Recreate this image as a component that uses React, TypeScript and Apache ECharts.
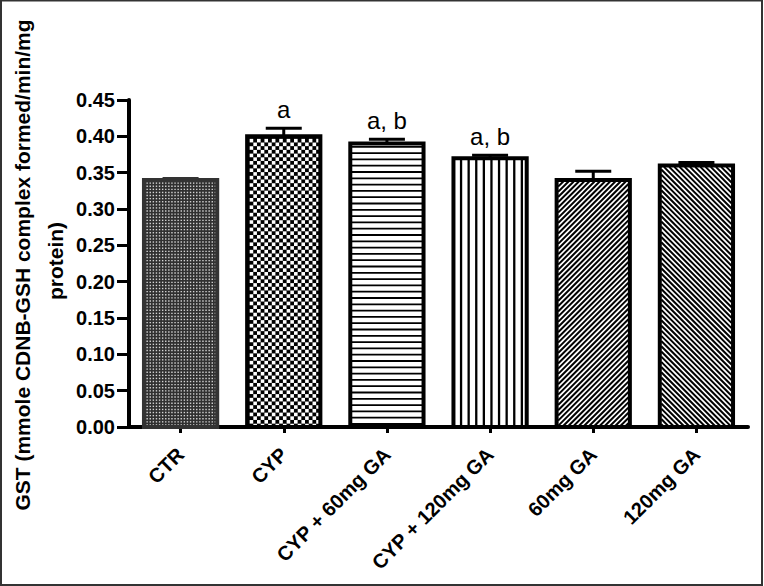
import React, { useEffect, useRef } from "react";
import * as echarts from "echarts";

const categories = ["CTR", "CYP", "CYP + 60mg GA", "CYP + 120mg GA", "60mg GA", "120mg GA"];
const gstMean = [0.34, 0.4, 0.39, 0.37, 0.34, 0.36];
const gstSem = [0.002, 0.011, 0.006, 0.004, 0.012, 0.004];
const sigLabels = ["", "a", "a, b", "a, b", "", ""];
const yAxisTitleLines = ["GST (mmole CDNB-GSH complex formed/min/mg", "protein)"];
const yMin = 0;
const yMax = 0.45;
const yStep = 0.05;

const fillKinds = ["dots", "checker", "hlines", "vlines", "diagUp", "diagDown"];
const FONT = "'Liberation Sans', Arial, Helvetica, sans-serif";

function renderBar(params: any, api: any) {
  const i = api.value(0);
  const v = api.value(1);
  const e = api.value(2);
  const top = api.coord([i, v]);
  const base = api.coord([i, 0]);
  const capPt = api.coord([i, v + e]);
  const band = api.size([1, 0])[0];
  const w = band * 0.71;
  const cx = top[0];
  const x0 = cx - w / 2;
  const x1 = cx + w / 2;
  const y0 = top[1];
  const y1 = base[1];
  const kind = fillKinds[i];
  const edge = i === 0 ? "#333" : "#000";
  const children: any[] = [];
  const ix0 = x0 + 1.5, ix1 = x1 - 1.5, iy0 = y0 + 1.5, iy1 = y1;

  if (kind === "dots") {
    children.push({ type: "rect", shape: { x: x0, y: y0, width: w, height: y1 - y0 }, style: { fill: "#303030" } });
    const p = 3.1;
    for (let yy = iy0 + 1; yy < iy1 - 1; yy += p) {
      for (let xx = ix0 + 1; xx < ix1 - 1; xx += p) {
        children.push({ type: "rect", shape: { x: xx, y: yy, width: 1.4, height: 1.4 }, style: { fill: "#d4d4d4" } });
      }
    }
  } else if (kind === "checker") {
    children.push({ type: "rect", shape: { x: x0, y: y0, width: w, height: y1 - y0 }, style: { fill: "#000" } });
    const px = 7.4, py = 3.7, s = 3.6;
    let row = 0;
    for (let yy = iy0 + 1; yy < iy1 - 2; yy += py, row++) {
      const off = row % 2 === 0 ? 0 : px / 2;
      for (let xx = ix0 + 1 + off; xx < ix1 - 2; xx += px) {
        children.push({ type: "rect", shape: { x: xx, y: yy, width: Math.min(s, ix1 - xx), height: Math.min(s, iy1 - yy) }, style: { fill: "#fff" } });
      }
    }
  } else {
    children.push({ type: "rect", shape: { x: x0, y: y0, width: w, height: y1 - y0 }, style: { fill: "#fff" } });
    const lineStyle = { stroke: "#000", lineWidth: 2 };
    if (kind === "hlines") {
      for (let yy = y1 - 3; yy > y0 + 2; yy -= 6.3) {
        children.push({ type: "line", shape: { x1: ix0, y1: yy, x2: ix1, y2: yy }, style: { stroke: "#000", lineWidth: 1.8 } });
      }
    } else if (kind === "vlines") {
      for (let xx = x0 + 7.6; xx < x1 - 3; xx += 7.6) {
        children.push({ type: "line", shape: { x1: xx, y1: iy0, x2: xx, y2: iy1 }, style: { stroke: "#000", lineWidth: 2.3 } });
      }
    } else if (kind === "diagUp") {
      const p = 5.2;
      for (let c = ix0 + iy0; c <= ix1 + iy1; c += p) {
        const xa = Math.max(ix0, c - iy1);
        const xb = Math.min(ix1, c - iy0);
        if (xb > xa) children.push({ type: "line", shape: { x1: xa, y1: c - xa, x2: xb, y2: c - xb }, style: lineStyle });
      }
    } else if (kind === "diagDown") {
      const p = 5.2;
      for (let c = iy0 - ix1; c <= iy1 - ix0; c += p) {
        const xa = Math.max(ix0, iy0 - c);
        const xb = Math.min(ix1, iy1 - c);
        if (xb > xa) children.push({ type: "line", shape: { x1: xa, y1: xa + c, x2: xb, y2: xb + c }, style: lineStyle });
      }
    }
  }
  children.push({
    type: "rect",
    shape: { x: x0, y: y0, width: w, height: y1 - y0 },
    style: { fill: "none", stroke: edge, lineWidth: 4, lineJoin: "miter" },
  });
  const capY = capPt[1];
  children.push({ type: "line", shape: { x1: cx, y1: y0, x2: cx, y2: capY }, style: { stroke: edge, lineWidth: 3 } });
  children.push({ type: "line", shape: { x1: cx - 18, y1: capY, x2: cx + 18, y2: capY }, style: { stroke: edge, lineWidth: 3 } });
  const lab = sigLabels[i];
  if (lab) {
    children.push({
      type: "text",
      x: cx,
      y: capY - 7,
      style: { text: lab, fill: "#000", font: `24px ${FONT}`, align: "center", verticalAlign: "bottom" },
    });
  }
  return { type: "group", children };
}

export default function App() {
  const ref = useRef<HTMLDivElement>(null);
  useEffect(() => {
    if (!ref.current) return;
    const chart = echarts.init(ref.current, null, { renderer: "svg" });
    chart.setOption({
      animation: false,
      backgroundColor: "#fff",
      grid: { left: 129, right: 16, top: 100, bottom: 159, containLabel: false },
      xAxis: {
        type: "category",
        data: categories,
        axisLine: { show: true, lineStyle: { color: "#000", width: 4 } },
        axisTick: { show: true, alignWithLabel: true, length: 6, lineStyle: { color: "#000", width: 3 } },
        axisLabel: {
          rotate: 45,
          margin: 24,
          interval: 0,
          color: "#000",
          fontFamily: FONT,
          fontWeight: "bold",
          fontSize: 20,
        },
        splitLine: { show: false },
      },
      yAxis: {
        type: "value",
        min: yMin,
        max: yMax,
        interval: yStep,
        axisLine: { show: true, lineStyle: { color: "#000", width: 4 } },
        axisTick: { show: true, length: 12, lineStyle: { color: "#000", width: 3 } },
        axisLabel: {
          margin: 14,
          color: "#000",
          fontFamily: FONT,
          fontWeight: "bold",
          fontSize: 20,
          formatter: (val: number) => val.toFixed(2),
        },
        splitLine: { show: false },
      },
      graphic: [
        {
          type: "rect",
          shape: { x: 1, y: 0.5, width: 761, height: 584.5 },
          style: { fill: "none", stroke: "#333", lineWidth: 2 },
          z: 100,
        },
        {
          type: "text",
          x: 22,
          y: 265,
          rotation: Math.PI / 2,
          style: { text: yAxisTitleLines[0], fill: "#000", font: `bold 21px ${FONT}`, align: "center", verticalAlign: "middle" },
        },
        {
          type: "text",
          x: 55,
          y: 261,
          rotation: Math.PI / 2,
          style: { text: yAxisTitleLines[1], fill: "#000", font: `bold 21px ${FONT}`, align: "center", verticalAlign: "middle" },
        },
      ],
      series: [
        {
          type: "custom",
          clip: false,
          renderItem: renderBar,
          encode: { x: 0, y: 1 },
          data: gstMean.map((v, i) => [i, v, gstSem[i]]),
          z: 5,
        },
      ],
    });
    return () => chart.dispose();
  }, []);
  return <div ref={ref} style={{ position: "fixed", left: 0, top: 0, width: 764, height: 586 }} />;
}
